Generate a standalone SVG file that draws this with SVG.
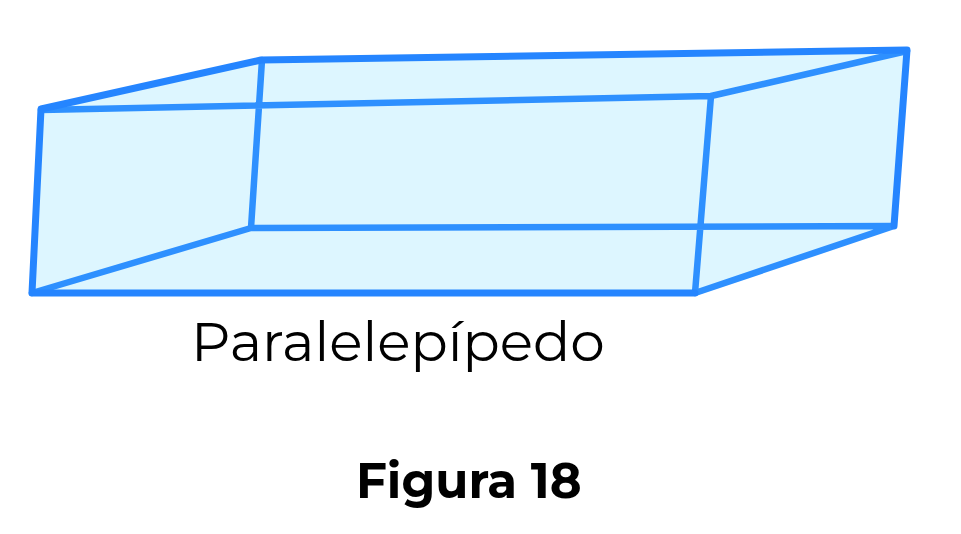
<svg xmlns="http://www.w3.org/2000/svg" width="961" height="534" viewBox="0 0 961 534">
<style>
.edge{fill:none;stroke-linecap:round;stroke-linejoin:round}
.inner{stroke:#2e90ff;stroke-width:6.5}
.outer{stroke:#2585ff;stroke-width:7}
.face{fill:#ddf6ff;stroke:none}
text{font-family:"Montserrat","Inter","Noto Sans",sans-serif;fill:#000}
</style>
<rect width="961" height="534" fill="#fff"/>
<g id="prism-fill"><polygon class="face" points="41,108 261,60 907,50 893,227 695,293 32,293"/></g>
<g id="connectors">
<path class="edge inner" d="M41,110L711,96L695,293M262,60L251,228L893,226M711,96L907,51M32,293L251,228M695,293L891,227"/>
<path class="edge outer" d="M32,293L695,293M32,293L41,109L261,60L907,50L894,226"/>
</g>
<text id="label" x="191" y="361" font-size="55">Paralelepípedo</text>
<text id="title" x="356" y="498" font-size="48.3" font-weight="700">Figura 18</text>
</svg>
